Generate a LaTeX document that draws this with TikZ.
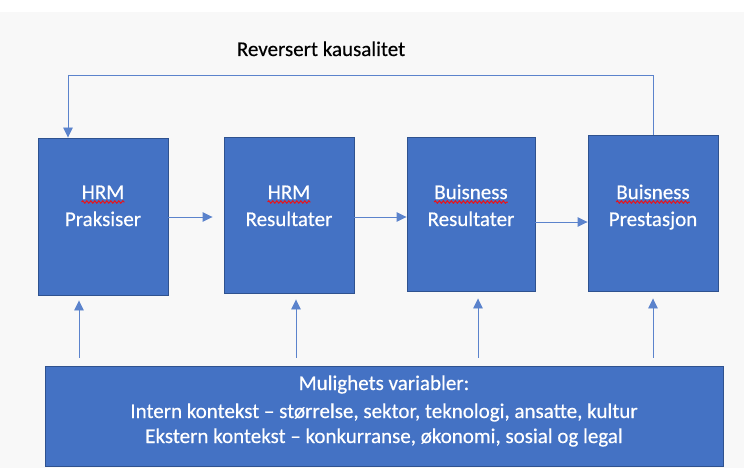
\documentclass[tikz,border=0pt]{standalone}
\usepackage{fontspec}
\setmainfont{Carlito}[FakeBold=0.4]
\usetikzlibrary{arrows.meta,decorations.pathmorphing}

\definecolor{boxblue}{HTML}{4472C4}
\definecolor{boxedge}{HTML}{2F528F}
\definecolor{linkblue}{HTML}{5B83CC}
\definecolor{paper}{HTML}{F8F8F8}
\definecolor{spellred}{HTML}{E8141B}

\tikzset{
  box/.style={draw=boxedge, line width=0.9pt, fill=boxblue, inner sep=0pt},
  boxtxt/.style={text=white, inner sep=0pt, anchor=base,
    font=\fontsize{21}{25}\selectfont},
  plaintxt/.style={text=black, inner sep=0pt, anchor=base,
    font=\fontsize{21}{25}\selectfont},
  link/.style={draw=linkblue, line width=0.9pt,
    -{Triangle[length=10pt,width=9.5pt]}},
  plainlink/.style={draw=linkblue, line width=0.9pt},
  squig/.style={draw=spellred, line width=1pt,
    decorate, decoration={snake, segment length=4pt, amplitude=1.2pt}}
}

\begin{document}
\begin{tikzpicture}[x=1pt,y=-1pt]
\useasboundingbox (0,0) rectangle (744,468);
\fill[white] (0,0) rectangle (744,12);
\fill[paper] (0,12) rectangle (744,468);

% main chain of boxes
\node[box, minimum width=130pt, minimum height=157pt] (b1) at (103,216.5) {};
\node[box, minimum width=130pt, minimum height=156pt] (b2) at (289,215) {};
\node[box, minimum width=128pt, minimum height=154pt] (b3) at (471,214) {};
\node[box, minimum width=130pt, minimum height=156pt] (b4) at (653,213) {};

% box labels
\node[boxtxt] (h1) at (103,199) {HRM};
\node[boxtxt] (p1) at (103,226) {Praksiser};
\node[boxtxt] (h2) at (289,199) {HRM};
\node[boxtxt] (p2) at (289,226) {Resultater};
\node[boxtxt] (h3) at (471,199) {Buisness};
\node[boxtxt] (p3) at (471,226) {Resultater};
\node[boxtxt] (h4) at (653,199) {Buisness};
\node[boxtxt] (p4) at (653,226) {Prestasjon};

% spell-check underlines
\foreach \w in {h1,h2,h3,h4}
  \draw[squig] ([yshift=-3pt]\w.base west) -- ([yshift=-3pt]\w.base east);

% context box
\node[box, minimum width=678pt, minimum height=100pt] (ctx) at (384,416) {};
\node[boxtxt] (m1) at (384,390) {Mulighets variabler:};
\node[boxtxt] (m2) at (384,418) {Intern kontekst – størrelse, sektor, teknologi, ansatte, kultur};
\node[boxtxt] (m3) at (384,443) {Ekstern kontekst – konkurranse, økonomi, sosial og legal};

% feedback loop label
\node[plaintxt] (rk) at (321,56) {Reversert kausalitet};

% horizontal links
\draw[link, shorten >=11pt] (b1.east |- 0,217) -- (b2.west |- 0,217);
\draw[link] (b2.east |- 0,217) -- (b3.west |- 0,217);
\draw[link] (b3.east |- 0,222) -- (b4.west |- 0,222);

% reverse causality loop
\coordinate (fr) at (653,75);
\coordinate (fl) at (68,75);
\draw[plainlink] (b4.north -| fr) -- (fr) -- (fl);
\draw[link] (fl) -- (b1.north -| fl);

% context influences
\coordinate (u1) at (79,0);
\coordinate (u2) at (296,0);
\coordinate (u3) at (478,0);
\coordinate (u4) at (653,0);
\draw[link, shorten <=8pt, shorten >=5pt] (ctx.north -| u1) -- (b1.south -| u1);
\draw[link, shorten <=8pt, shorten >=6pt] (ctx.north -| u2) -- (b2.south -| u2);
\draw[link, shorten <=8pt, shorten >=7pt] (ctx.north -| u3) -- (b3.south -| u3);
\draw[link, shorten <=8pt, shorten >=7pt] (ctx.north -| u4) -- (b4.south -| u4);
\end{tikzpicture}
\end{document}
